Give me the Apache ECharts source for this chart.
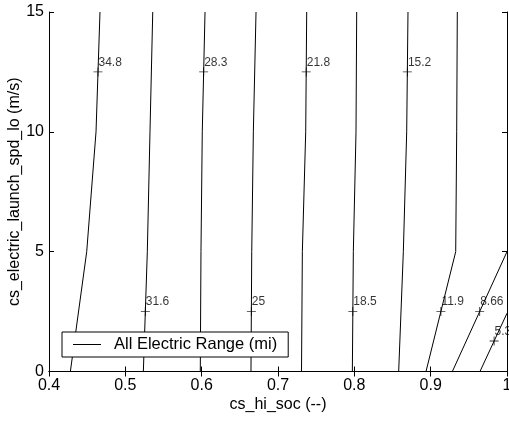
<!DOCTYPE html>
<html>
<head>
<meta charset="utf-8">
<script src="https://cdn.jsdelivr.net/npm/echarts@6/dist/echarts.min.js"></script>
<style>
  html, body { margin: 0; padding: 0; background: #fff; }
  #chart { width: 509px; height: 421px; }
</style>
</head>
<body>
<div id="chart"></div>
<script>
// 网格上的y值 (contour lines bend only at these rows)
const yRows = [0, 5, 10, 15];

// 每条等值线在各y行的x值
const line348 = [0.428, 0.4494, 0.4616, 0.4668];
const line316 = [0.5236, 0.5288, 0.5323, 0.5359];
const line283 = [0.5982, 0.5991, 0.6008, 0.6044];
const line250 = [0.6646, 0.6656, 0.6677, 0.6712];
const line218 = [0.7308, 0.7319, 0.7363, 0.7376];
const line185 = [0.7974, 0.7987, 0.8022, 0.8031];
const line152 = [0.8581, 0.8642, 0.8686, 0.8703];
const line119 = [0.8939, 0.9328, 0.9341, 0.9349];
// 右下角两条短线 (x, y pairs)
const line866 = [[0.9284, 0], [1.0, 5.0]];
const line539 = [[0.9646, 0], [1.0, 2.43]];

// 等值线标注
const labelText = ['34.8', '31.6', '28.3', '25', '21.8', '18.5', '15.2', '11.9', '8.66', '5.39'];
const labelX = [0.4642, 0.5262, 0.6026, 0.6651, 0.737, 0.798, 0.8695, 0.9134, 0.9642, 0.9831];
const labelY = [12.5, 2.5, 12.5, 2.5, 12.5, 2.5, 12.5, 2.5, 2.5, 1.27];

const xTicks = ['0.4', '0.5', '0.6', '0.7', '0.8', '0.9', '1'];

const FONT = 'Liberation Sans, Arial, Helvetica, sans-serif';
const seriesName = 'All Electric Range (mi)';

const chart = echarts.init(document.getElementById('chart'));

const gridLines = [line348, line316, line283, line250, line218, line185, line152, line119]
    .map(xs => xs.map((x, i) => [x, yRows[i]]));
gridLines.push(line866, line539);

const lineSeries = gridLines.map(pts => ({
    name: seriesName,
    type: 'line',
    data: pts,
    symbol: 'none',
    silent: true,
    animation: false,
    lineStyle: { color: '#000', width: 1 },
    itemStyle: { color: '#000' }
}));

const plusPath = 'path://M0,4.5H10V5.5H0Z M4.5,0H5.5V10H4.5Z';

const labelSeries = {
    type: 'scatter',
    data: labelX.map((x, i) => ({ value: [x, labelY[i]], name: labelText[i] })),
    symbol: plusPath,
    symbolSize: 9,
    itemStyle: { color: '#000' },
    silent: true,
    animation: false,
    label: {
        show: true,
        formatter: p => p.name,
        position: [5, -5],
        align: 'left',
        verticalAlign: 'middle',
        color: '#000',
        fontSize: 12,
        fontFamily: FONT
    }
};

const axisCommon = {
    axisLine: { show: true, lineStyle: { color: '#000', width: 1 } },
    axisTick: { show: true, inside: true, length: 5, lineStyle: { color: '#000' } },
    splitLine: { show: false }
};

const option = {
    backgroundColor: '#fff',
    animation: false,
    grid: { left: 49, right: 2, top: 12, bottom: 49.5, containLabel: false, outerBoundsMode: 'none' },
    legend: {
        data: [{ name: seriesName, icon: 'path://M0,0H28V1H0Z' }],
        left: 62,
        top: 332,
        orient: 'horizontal',
        padding: [4, 11, 4, 11],
        backgroundColor: '#fff',
        borderColor: '#000',
        borderWidth: 1,
        borderRadius: 0,
        itemWidth: 28,
        itemHeight: 1,
        itemGap: 0,
        itemStyle: { color: '#000', borderWidth: 0 },
        lineStyle: { width: 0 },
        textStyle: { color: '#000', fontSize: 16.5, fontFamily: FONT, padding: [0, 0, 0, 8], lineHeight: 15 },
        selectedMode: false
    },
    xAxis: [{
        ...axisCommon,
        type: 'value',
        min: 0.4,
        max: 1,
        interval: 0.1,
        name: 'cs_hi_soc (--)',
        nameLocation: 'middle',
        nameGap: 25,
        nameMoveOverlap: false,
        nameTextStyle: { color: '#000', fontSize: 16, fontFamily: FONT },
        axisLabel: {
            color: '#000', fontSize: 16, fontFamily: FONT, margin: 6,
            formatter: v => xTicks[Math.round((v - 0.4) * 10)]
        }
    }, {
        ...axisCommon,
        type: 'value',
        position: 'top',
        min: 0.4,
        max: 1,
        interval: 0.1,
        axisLabel: { show: false }
    }],
    yAxis: [{
        ...axisCommon,
        type: 'value',
        min: 0,
        max: 15,
        interval: 5,
        name: 'cs_electric_launch_spd_lo (m/s)',
        nameLocation: 'middle',
        nameGap: 26,
        nameMoveOverlap: false,
        nameTextStyle: { color: '#000', fontSize: 16, fontFamily: FONT },
        axisLabel: { color: '#000', fontSize: 16, fontFamily: FONT, margin: 5 }
    }, {
        ...axisCommon,
        type: 'value',
        position: 'right',
        min: 0,
        max: 15,
        interval: 5,
        axisLabel: { show: false }
    }],
    series: [...lineSeries, labelSeries]
};

chart.setOption(option);
</script>
</body>
</html>
